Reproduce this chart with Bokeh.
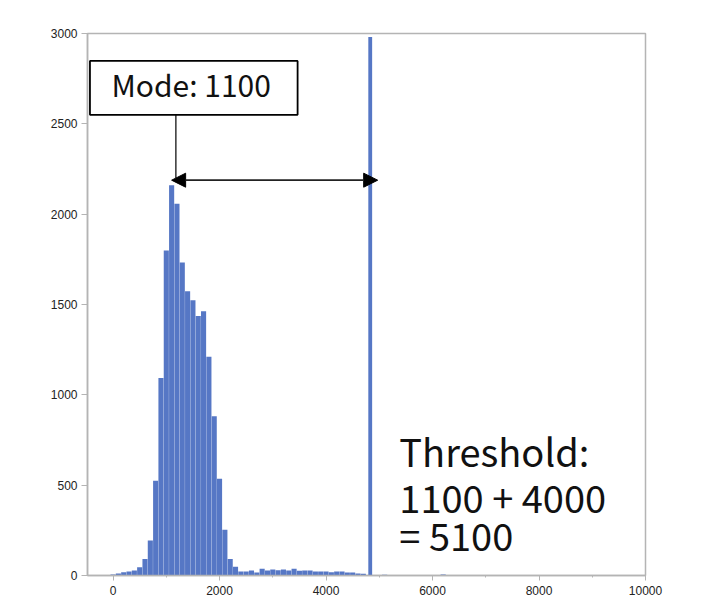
from bokeh.plotting import figure
from bokeh.models import Range1d, BoxAnnotation, Label, Arrow, NormalHead, FixedTicker
from bokeh.embed import file_html
from bokeh.resources import INLINE

# histogram bins (center of each 100-wide bin) and counts
bin_centers = [0, 100, 200, 300, 400, 500, 600, 700, 800, 900,
               1000, 1100, 1200, 1300, 1400, 1500, 1600, 1700, 1800, 1900,
               2000, 2100, 2200, 2300, 2400, 2500, 2600, 2700, 2800, 2900,
               3000, 3100, 3200, 3300, 3400, 3500, 3600, 3700, 3800, 3900,
               4000, 4100, 4200, 4300, 4400, 4500, 4600, 4700,
               5100, 5200, 6200]
counts = [6, 11, 18, 22, 27, 46, 92, 194, 524, 1093,
          1799, 2160, 2057, 1733, 1573, 1524, 1436, 1463, 1211, 881,
          535, 253, 92, 49, 22, 22, 27, 16, 38, 27,
          33, 29, 33, 27, 38, 26, 27, 27, 22, 22,
          22, 18, 22, 22, 16, 16, 11, 9,
          4, 2, 5]

# saturated spike
spike_x = [4830]
spike_count = [2980]

x_ticks = [0, 2000, 4000, 6000, 8000, 10000]
y_ticks = [0, 500, 1000, 1500, 2000, 2500, 3000]

mode_value = 1100
threshold_text = ["Threshold:", "1100 + 4000", "= 5100"]

BAR = "#5677c5"
GRAY = "#b4b4b4"

p = figure(frame_width=558, frame_height=542, output_backend="svg",
           toolbar_location=None, x_range=Range1d(-480, 10000), y_range=Range1d(0, 3000),
           min_border_left=87, min_border_top=33, min_border_right=40, min_border_bottom=30)
p.grid.visible = False
p.outline_line_color = GRAY
p.outline_line_width = 1.5

p.vbar(x=bin_centers, top=counts, width=96, bottom=0, fill_color=BAR, line_color=None)
p.vbar(x=spike_x, top=spike_count, width=72, bottom=0, fill_color=BAR, line_color=None)

for ax in (p.xaxis[0], p.yaxis[0]):
    ax.axis_line_color = GRAY
    ax.axis_line_width = 1.5
    ax.major_tick_line_color = GRAY
    ax.minor_tick_line_color = GRAY
    ax.major_tick_in = 0
    ax.minor_tick_in = 0
    ax.major_label_text_font = "Liberation Sans"
    ax.major_label_text_font_size = "12px"
    ax.major_label_text_color = "#222222"

p.xaxis.ticker = FixedTicker(ticks=x_ticks, minor_ticks=list(range(0, 10001, 1000)))
p.xaxis.major_tick_out = 5
p.xaxis.minor_tick_out = 2
p.xaxis.major_label_standoff = 5
p.yaxis.ticker = FixedTicker(ticks=y_ticks)
p.yaxis.minor_tick_line_color = None
p.yaxis.major_tick_out = 6
p.yaxis.major_label_standoff = 4

# Mode annotation box
p.add_layout(BoxAnnotation(left=-434, right=3466, bottom=2550, top=2848,
                           fill_color="white", fill_alpha=1.0,
                           line_color="black", line_alpha=1.0, line_width=1.8))
p.add_layout(Label(x=-30, y=2720, text="Mode: %d" % mode_value,
                   text_font="Noto Sans CJK JP", text_font_size="30px",
                   text_color="#111111", text_align="left", text_baseline="alphabetic"))
p.add_layout(Arrow(x_start=1180, y_start=2550, x_end=1180, y_end=2200,
                   start=None, end=None, line_color="black", line_width=1.2))
p.add_layout(Arrow(x_start=1100, y_start=2188, x_end=4970, y_end=2188,
                   start=NormalHead(size=14, fill_color="black", line_color="black"),
                   end=NormalHead(size=14, fill_color="black", line_color="black"),
                   line_color="#222222", line_width=1.8))

# Threshold text
for txt, yv in zip(threshold_text, [691, 439, 226]):
    p.add_layout(Label(x=5376, y=yv, text=txt, text_font="Noto Sans CJK JP",
                       text_font_size="38px", text_color="#111111",
                       text_align="left", text_baseline="alphabetic"))

open("out.html", "w").write(file_html(p, INLINE))
